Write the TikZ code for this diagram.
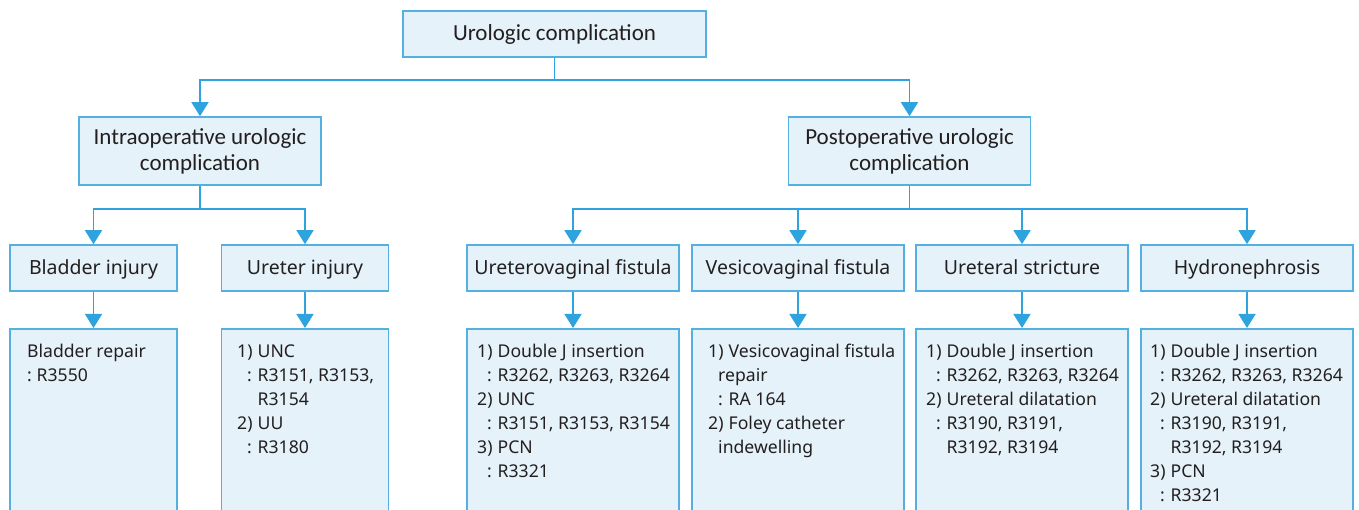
\documentclass[tikz,border=0pt]{standalone}
\usepackage{fontspec}
\setmainfont{Noto Sans}
\newfontfamily\topfont{Carlito}
\usetikzlibrary{arrows.meta}
\definecolor{boxfill}{HTML}{E5F2F9}
\definecolor{boxline}{HTML}{55B0E2}
\definecolor{conn}{HTML}{2EA3DD}
\definecolor{txt}{HTML}{231F20}
\newcommand\nm[1]{\makebox[20.5pt][l]{#1}}
\newcommand\cl{\hspace*{10pt}\makebox[10.5pt][l]{:}}
\newcommand\ct{\hspace*{20.5pt}}
\newcommand\ch{\hspace*{10pt}}
\begin{document}
\begin{tikzpicture}[x=1pt,y=-1pt,
  bx/.style={draw=boxline,fill=boxfill,line width=1.6pt,inner sep=0pt,text=txt},
  topbox/.style={bx,font=\topfont\fontsize{23}{26}\selectfont,align=center},
  midbox/.style={bx,font=\fontsize{19.5}{24}\selectfont,minimum width=212pt,minimum height=46pt,text height=18pt,text depth=4pt},
  lowbox/.style={bx,minimum height=200pt,anchor=north},
  lowtxt/.style={inner sep=0pt,anchor=north west,align=left,text=txt,font=\fontsize{17.6}{24}\selectfont},
  link/.style={draw=conn,line width=1.6pt},
  arr/.style={link,-{Triangle[width=17pt,length=14pt]}}]
\useasboundingbox (0,0) rectangle (1359,510);
\clip (0,0) rectangle (1359,510);
% level 1 and 2
\node[topbox,minimum width=303pt,minimum height=46pt] (root) at (554.5,34) {Urologic complication};
\node[topbox,minimum width=242pt,minimum height=68pt] (intra) at (200,151) {Intraoperative urologic\\complication};
\node[topbox,minimum width=242pt,minimum height=68pt] (post) at (909.5,151) {Postoperative urologic\\complication};
% level 3
\node[midbox,minimum width=167pt] (bl) at (93.5,268) {Bladder injury};
\node[midbox,minimum width=167pt] (ur) at (305,268) {Ureter injury};
\node[midbox] (uv) at (573,268) {Ureterovaginal fistula};
\node[midbox] (vv) at (798,268) {Vesicovaginal fistula};
\node[midbox] (us) at (1022,268) {Ureteral stricture};
\node[midbox] (hy) at (1247,268) {Hydronephrosis};
% level 4 boxes
\node[lowbox,minimum width=167pt] (blt) at (93.5,328) {};
\node[lowbox,minimum width=167pt] (urt) at (305,328) {};
\node[lowbox,minimum width=212pt] (uvt) at (573,328) {};
\node[lowbox,minimum width=212pt] (vvt) at (798,328) {};
\node[lowbox,minimum width=212pt] (ust) at (1022,328) {};
\node[lowbox,minimum width=212pt] (hyt) at (1247,328) {};
% level 4 texts
\node[lowtxt] (blx) at (27,342) {\rule{0pt}{15pt}Bladder repair\\\makebox[9.5pt][l]{:}R3550};
\node[lowtxt] (urx) at (237,342) {\rule{0pt}{15pt}\nm{1)}UNC\\\cl R3151, R3153,\\\ct R3154\\\nm{2)}UU\\\cl R3180};
\node[lowtxt] (uvx) at (477,342) {\rule{0pt}{15pt}\nm{1)}Double J insertion\\\cl R3262, R3263, R3264\\\nm{2)}UNC\\\cl R3151, R3153, R3154\\\nm{3)}PCN\\\cl R3321};
\node[lowtxt] (vvx) at (708,342) {\rule{0pt}{15pt}\nm{1)}Vesicovaginal fistula\\\ch repair\\\cl RA 164\\\nm{2)}Foley catheter\\\ch indewelling};
\node[lowtxt] (usx) at (926,342) {\rule{0pt}{15pt}\nm{1)}Double J insertion\\\cl R3262, R3263, R3264\\\nm{2)}Ureteral dilatation\\\cl R3190, R3191,\\\ct R3192, R3194};
\node[lowtxt] (hyx) at (1150,342) {\rule{0pt}{15pt}\nm{1)}Double J insertion\\\cl R3262, R3263, R3264\\\nm{2)}Ureteral dilatation\\\cl R3190, R3191,\\\ct R3192, R3194\\\nm{3)}PCN\\\cl R3321};
% connectors
\draw[arr] (root.south) -- ++(0,22) -| (intra.north);
\draw[arr] (root.south) -- ++(0,22) -| (post.north);
\draw[arr] (intra.south) -- ++(0,23) -| (bl.north);
\draw[arr] (intra.south) -- ++(0,23) -| (ur.north);
\draw[arr] (post.south) -- ++(0,23) -| (uv.north);
\draw[arr] (post.south) -- ++(0,23) -| (vv.north);
\draw[arr] (post.south) -- ++(0,23) -| (us.north);
\draw[arr] (post.south) -- ++(0,23) -| (hy.north);
\draw[arr] (bl.south) -- (blt.north);
\draw[arr] (ur.south) -- (urt.north);
\draw[arr] (uv.south) -- (uvt.north);
\draw[arr] (vv.south) -- (vvt.north);
\draw[arr] (us.south) -- (ust.north);
\draw[arr] (hy.south) -- (hyt.north);
\end{tikzpicture}
\end{document}
